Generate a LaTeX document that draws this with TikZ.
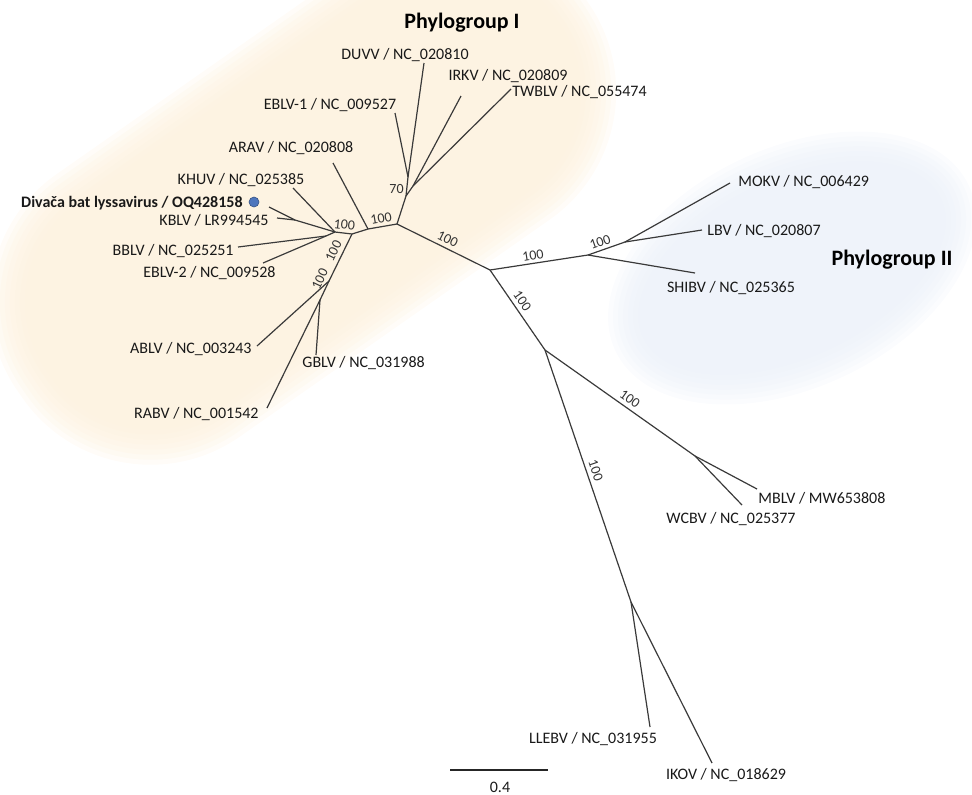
\documentclass[tikz,border=0pt]{standalone}
\usepackage{fontspec}
\setmainfont{Carlito}
\usepackage{xcolor}
\definecolor{groupOne}{HTML}{FDF1DD}
\definecolor{groupTwo}{HTML}{ECF1F9}
\definecolor{branchColor}{HTML}{3A3A3A}
\definecolor{markColor}{HTML}{4E76BD}
\usepackage{tikz}
\usetikzlibrary{positioning, calc}

\begin{document}
\begin{tikzpicture}[x=0.5pt, y=-0.5pt, font=\fontsize{8}{9.6}\selectfont,
    branch/.style={draw=branchColor, line width=0.6pt},
    taxon/.style={inner sep=0pt, text=black!90},
    support/.style={inner sep=0pt, font=\fontsize{7}{8}\selectfont, text=black!80},
    group/.style={inner sep=0pt, font=\fontsize{11}{13}\selectfont\bfseries}]
        \useasboundingbox (0,0) rectangle (972,794);

        % Phylogroup backgrounds (soft edges from stacked layers)
        \begin{scope}[shift={(303,197)}, rotate=35]
            \foreach \k [evaluate=\k as \r using 78-2.5*\k] in {0,...,7}
                \fill[groupOne, fill opacity=0.22, rounded corners=\r pt] ({-345+5*\k},{-160+5*\k}) rectangle ({345-5*\k},{160-5*\k});
        \end{scope}
        \begin{scope}[shift={(792,268)}, rotate=25]
            \foreach \k in {0,...,7}
                \fill[groupTwo, fill opacity=0.22] (0,0) ellipse [x radius={195-5*\k}, y radius={120-5*\k}];
        \end{scope}
        \node[group] (pgOneTitle) at (462,23) {Phylogroup I};
        \node[group] (pgTwoTitle) at (892,260) {Phylogroup II};

        % Internal nodes
        \coordinate (root) at (490,270);
        \coordinate (pgOne) at (397,224);
        \coordinate (n70) at (406,196);
        \coordinate (nDuvv) at (408,177);
        \coordinate (nIrkv) at (413,186);
        \coordinate (nArav) at (368,229);
        \coordinate (nStem) at (352,234);
        \coordinate (nKhuv) at (335,232);
        \coordinate (nKblv) at (295,220);
        \coordinate (nBblv) at (326,236);
        \coordinate (nAblv) at (329,281);
        \coordinate (nRabv) at (320,300);
        \coordinate (pgTwo) at (588,255);
        \coordinate (nMokv) at (625,242);
        \coordinate (nLower) at (545,350);
        \coordinate (nMblv) at (695,456);
        \coordinate (nIkov) at (631,602);

        % Tips and their labels
        \coordinate (tDuvv) at (424,63);   \node[taxon] (duvv) at (405,55) {DUVV / NC\_020810};
        \coordinate (tEblvA) at (395,113); \node[taxon] (eblvA) at (330,105) {EBLV-1 / NC\_009527};
        \coordinate (tIrkv) at (461,96);   \node[taxon] (irkv) at (508,76) {IRKV / NC\_020809};
        \coordinate (tTwblv) at (511,89);  \node[taxon, anchor=west] (twblv) at (512,92) {TWBLV / NC\_055474};
        \coordinate (tArav) at (333,163);  \node[taxon] (arav) at (291,148) {ARAV / NC\_020808};
        \coordinate (tKhuv) at (293,188);  \node[taxon] (khuv) at (241,180) {KHUV / NC\_025385};
        \coordinate (tDivaca) at (269,207);\node[taxon, anchor=east, font=\fontsize{8}{9.6}\selectfont\bfseries] (divaca) at (243,203) {Divača bat lyssavirus / OQ428158};
        \node[circle, fill=markColor, draw=markColor!70!black, line width=0.3pt, minimum size=5pt, inner sep=0pt] (mark) at (254,202) {};
        \coordinate (tKblv) at (277,218);  \node[taxon, anchor=east] (kblv) at (269,220) {KBLV / LR994545};
        \coordinate (tBblv) at (238,247);  \node[taxon, anchor=east] (bblv) at (234,251) {BBLV / NC\_025251};
        \coordinate (tEblvB) at (263,263); \node[taxon, anchor=east] (eblvB) at (276,273) {EBLV-2 / NC\_009528};
        \coordinate (tAblv) at (257,346);  \node[taxon, anchor=east] (ablv) at (252,349) {ABLV / NC\_003243};
        \coordinate (tGblv) at (316,355);  \node[taxon, anchor=west] (gblv) at (302,363) {GBLV / NC\_031988};
        \coordinate (tRabv) at (267,408);  \node[taxon, anchor=east] (rabv) at (259,414) {RABV / NC\_001542};
        \coordinate (tMokv) at (730,183);  \node[taxon, anchor=west] (mokv) at (738,182) {MOKV / NC\_006429};
        \coordinate (tLbv) at (702,230);   \node[taxon, anchor=west] (lbv) at (707,231) {LBV / NC\_020807};
        \coordinate (tShibv) at (695,273); \node[taxon] (shibv) at (731,288) {SHIBV / NC\_025365};
        \coordinate (tMblv) at (757,489);  \node[taxon, anchor=west] (mblv) at (758,498) {MBLV / MW653808};
        \coordinate (tWcbv) at (742,505);  \node[taxon] (wcbv) at (731,519) {WCBV / NC\_025377};
        \coordinate (tLlebv) at (650,727); \node[taxon] (llebv) at (593,739) {LLEBV / NC\_031955};
        \coordinate (tIkov) at (712,763);  \node[taxon] (ikov) at (726,775) {IKOV / NC\_018629};

        % Branches of phylogroup I
        \draw[branch] (pgOne) -- (root) node[support, midway, above=2pt, sloped] (bsRoot) {100};
        \draw[branch] (pgOne) -- (n70) -- (nDuvv) -- (tDuvv);
        \draw[branch] (nDuvv) -- (tEblvA);
        \draw[branch] (n70) -- (nIrkv) -- (tIrkv);
        \draw[branch] (nIrkv) -- (tTwblv);
        \node[support, anchor=east] (bs70) at (404,189) {70};
        \draw[branch] (nArav) -- (pgOne) node[support, midway, above=1.5pt, sloped] (bsArav) {100};
        \draw[branch] (nArav) -- (tArav);
        \draw[branch] (nKhuv) -- (nStem) node[support, midway, above=1.5pt, sloped] (bsKhuv) {100};
        \draw[branch] (nStem) -- (nArav);
        \draw[branch] (nKhuv) -- (tKhuv);
        \draw[branch] (nKhuv) -- (nKblv) -- (tDivaca);
        \draw[branch] (nKblv) -- (tKblv);
        \draw[branch] (nKhuv) -- (nBblv) -- (tBblv);
        \draw[branch] (nBblv) -- (tEblvB);
        \draw[branch] (nStem) -- (nAblv) node[support, pos=0.45, above=2pt, sloped] (bsStem) {100};
        \draw[branch] (nAblv) -- (tAblv);
        \draw[branch] (nAblv) -- (nRabv) node[support, pos=0.1, above=2pt, sloped] (bsAblv) {100};
        \draw[branch] (nRabv) -- (tRabv);
        \draw[branch] (nRabv) -- (tGblv);

        % Branches of phylogroup II and the rest
        \draw[branch] (root) -- (pgTwo) node[support, pos=0.45, above=1.5pt, sloped] (bsTwo) {100};
        \draw[branch] (pgTwo) -- (nMokv) node[support, pos=0.4, above=1.5pt, sloped] (bsMokv) {100};
        \draw[branch] (nMokv) -- (tMokv);
        \draw[branch] (nMokv) -- (tLbv);
        \draw[branch] (pgTwo) -- (tShibv);
        \draw[branch] (root) -- (nLower) node[support, pos=0.45, above=2pt, sloped] (bsLower) {100};
        \draw[branch] (nLower) -- (nMblv) node[support, pos=0.53, above=2pt, sloped] (bsMblv) {100};
        \draw[branch] (nMblv) -- (tMblv);
        \draw[branch] (nMblv) -- (tWcbv);
        \draw[branch] (nLower) -- (nIkov) node[support, pos=0.49, above=2pt, sloped] (bsIkov) {100};
        \draw[branch] (nIkov) -- (tLlebv);
        \draw[branch] (nIkov) -- (tIkov);

        % Scale bar
        \coordinate (barL) at (450,770);
        \coordinate (barR) at (548,770);
        \draw[draw=black!85, line width=1.3pt] (barL) -- (barR);
        \node[taxon] (barText) at (500,787) {0.4};
\end{tikzpicture}
\end{document}
